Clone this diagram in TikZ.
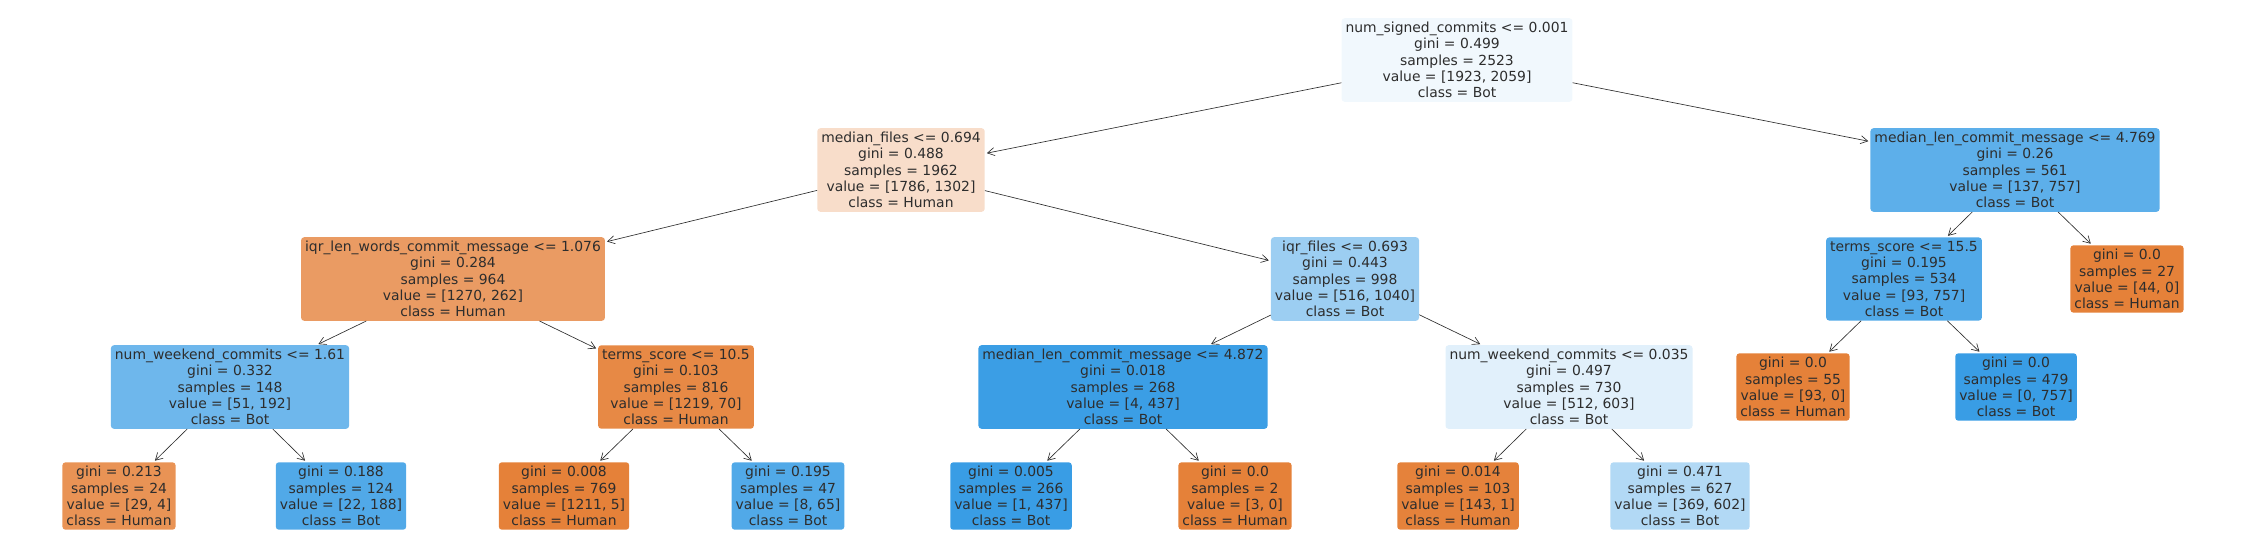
\documentclass[tikz,border=0pt]{standalone}
\usepackage{fontspec}
\setmainfont{DejaVu Sans}
\usetikzlibrary{arrows.meta}

\definecolor{humanCol}{RGB}{229,129,57}
\definecolor{botCol}{RGB}{57,157,229}
\definecolor{strokecol}{RGB}{45,45,45}

\tikzset{
  treeNode/.style={rounded corners=3pt, align=center, inner xsep=4pt, inner ysep=4pt,
    text=strokecol, font=\fontsize{13.9}{16.2}\selectfont},
  treeEdge/.style={draw=strokecol, line width=0.65pt,
    -{Straight Barb[length=7pt,width=8pt]}, shorten >=2pt},
}

\begin{document}
\begin{tikzpicture}[x=1pt, y=-1pt]

    \useasboundingbox (0,0) rectangle (2246,558);

    % row heights
    \def\rowA{60}
    \def\rowB{170}
    \def\rowC{279}
    \def\rowD{387}
    \def\rowE{496}

    % root
    \node[treeNode, fill=botCol!7!white] (root) at (1457,\rowA)
      {num\_signed\_commits <= 0.001\\gini = 0.499\\samples = 2523\\value = [1923, 2059]\\class = Bot};

    % first split
    \node[treeNode, fill=humanCol!27!white] (medFiles) at (901,\rowB)
      {median\_files <= 0.694\\gini = 0.488\\samples = 1962\\value = [1786, 1302]\\class = Human};
    \node[treeNode, fill=botCol!82!white] (medLenA) at (2015,\rowB)
      {median\_len\_commit\_message <= 4.769\\gini = 0.26\\samples = 561\\value = [137, 757]\\class = Bot};

    % second split
    \node[treeNode, fill=humanCol!79!white] (iqrWords) at (453,\rowC)
      {iqr\_len\_words\_commit\_message <= 1.076\\gini = 0.284\\samples = 964\\value = [1270, 262]\\class = Human};
    \node[treeNode, fill=botCol!50!white] (iqrFiles) at (1345,\rowC)
      {iqr\_files <= 0.693\\gini = 0.443\\samples = 998\\value = [516, 1040]\\class = Bot};
    \node[treeNode, fill=botCol!88!white] (termsA) at (1904,\rowC)
      {terms\_score <= 15.5\\gini = 0.195\\samples = 534\\value = [93, 757]\\class = Bot};
    \node[treeNode, fill=humanCol] (leafK) at (2127,\rowC)
      {gini = 0.0\\samples = 27\\value = [44, 0]\\class = Human};

    % third split
    \node[treeNode, fill=botCol!73!white] (weekendA) at (230,\rowD)
      {num\_weekend\_commits <= 1.61\\gini = 0.332\\samples = 148\\value = [51, 192]\\class = Bot};
    \node[treeNode, fill=humanCol!94!white] (termsB) at (676,\rowD)
      {terms\_score <= 10.5\\gini = 0.103\\samples = 816\\value = [1219, 70]\\class = Human};
    \node[treeNode, fill=botCol!99!white] (medLenB) at (1123,\rowD)
      {median\_len\_commit\_message <= 4.872\\gini = 0.018\\samples = 268\\value = [4, 437]\\class = Bot};
    \node[treeNode, fill=botCol!15!white] (weekendB) at (1569,\rowD)
      {num\_weekend\_commits <= 0.035\\gini = 0.497\\samples = 730\\value = [512, 603]\\class = Bot};
    \node[treeNode, fill=humanCol] (leafI) at (1793,\rowD)
      {gini = 0.0\\samples = 55\\value = [93, 0]\\class = Human};
    \node[treeNode, fill=botCol] (leafJ) at (2016,\rowD)
      {gini = 0.0\\samples = 479\\value = [0, 757]\\class = Bot};

    % leaves
    \node[treeNode, fill=humanCol!86!white] (leafA) at (119,\rowE)
      {gini = 0.213\\samples = 24\\value = [29, 4]\\class = Human};
    \node[treeNode, fill=botCol!88!white] (leafB) at (341,\rowE)
      {gini = 0.188\\samples = 124\\value = [22, 188]\\class = Bot};
    \node[treeNode, fill=humanCol] (leafC) at (564,\rowE)
      {gini = 0.008\\samples = 769\\value = [1211, 5]\\class = Human};
    \node[treeNode, fill=botCol!88!white] (leafD) at (788,\rowE)
      {gini = 0.195\\samples = 47\\value = [8, 65]\\class = Bot};
    \node[treeNode, fill=botCol] (leafE) at (1011,\rowE)
      {gini = 0.005\\samples = 266\\value = [1, 437]\\class = Bot};
    \node[treeNode, fill=humanCol] (leafF) at (1235,\rowE)
      {gini = 0.0\\samples = 2\\value = [3, 0]\\class = Human};
    \node[treeNode, fill=humanCol!99!white] (leafG) at (1458,\rowE)
      {gini = 0.014\\samples = 103\\value = [143, 1]\\class = Human};
    \node[treeNode, fill=botCol!39!white] (leafH) at (1680,\rowE)
      {gini = 0.471\\samples = 627\\value = [369, 602]\\class = Bot};

    % edges
    \draw[treeEdge] (root) -- (medFiles);
    \draw[treeEdge] (root) -- (medLenA);
    \draw[treeEdge] (medFiles) -- (iqrWords);
    \draw[treeEdge] (medFiles) -- (iqrFiles);
    \draw[treeEdge] (medLenA) -- (termsA);
    \draw[treeEdge] (medLenA) -- (leafK);
    \draw[treeEdge] (iqrWords) -- (weekendA);
    \draw[treeEdge] (iqrWords) -- (termsB);
    \draw[treeEdge] (iqrFiles) -- (medLenB);
    \draw[treeEdge] (iqrFiles) -- (weekendB);
    \draw[treeEdge] (termsA) -- (leafI);
    \draw[treeEdge] (termsA) -- (leafJ);
    \draw[treeEdge] (weekendA) -- (leafA);
    \draw[treeEdge] (weekendA) -- (leafB);
    \draw[treeEdge] (termsB) -- (leafC);
    \draw[treeEdge] (termsB) -- (leafD);
    \draw[treeEdge] (medLenB) -- (leafE);
    \draw[treeEdge] (medLenB) -- (leafF);
    \draw[treeEdge] (weekendB) -- (leafG);
    \draw[treeEdge] (weekendB) -- (leafH);

\end{tikzpicture}
\end{document}
